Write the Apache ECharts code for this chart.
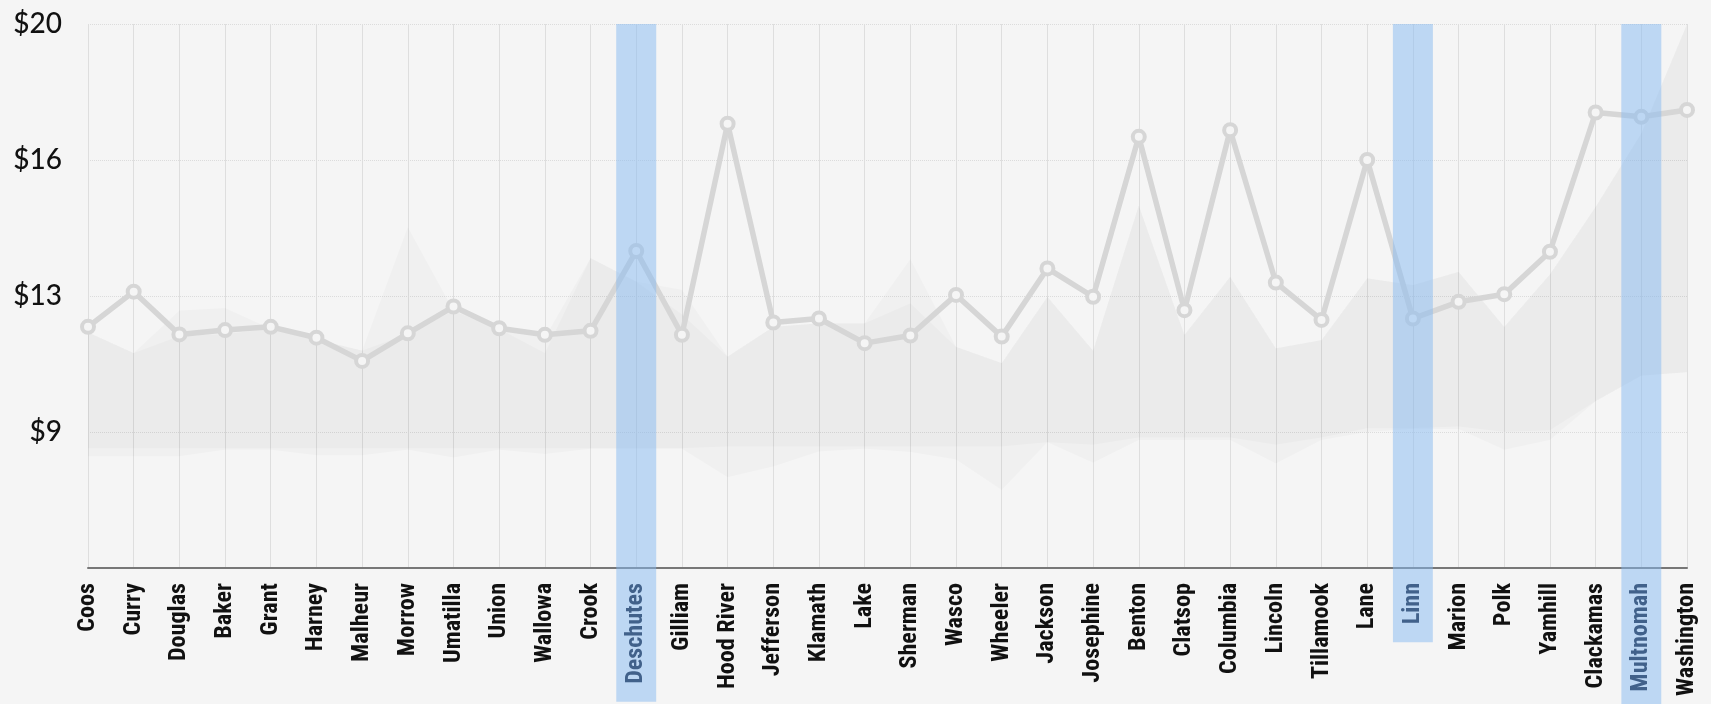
<!DOCTYPE html>
<html>
<head>
<meta charset="utf-8">
<script src="https://cdn.jsdelivr.net/npm/echarts@6/dist/echarts.min.js"></script>
<style>
  @font-face {
    font-family: 'CondX';
    src: local('Noto Sans ExtraCondensed'), local('NotoSans-ExtraCondensed'),
         local('Roboto Condensed'), local('RobotoCondensed-Regular'),
         local('Liberation Sans Narrow'), local('LiberationSansNarrow-Regular'),
         local('Noto Sans Condensed'), local('NotoSans-Condensed'),
         local('Open Sans Condensed'), local('OpenSansCondensed-Light'),
         local('DejaVu Sans Condensed'), local('DejaVuSansCondensed');
  }
  html, body { margin: 0; padding: 0; background: #f5f5f5; }
  #chart { width: 1711px; height: 704px; }
  #probe { position: absolute; left: -9999px; top: 0; white-space: nowrap; }
</style>
</head>
<body>
<div id="chart"></div>
<span id="probe">Hood River</span>
<script>
const counties = ['Coos','Curry','Douglas','Baker','Grant','Harney','Malheur','Morrow','Umatilla','Union','Wallowa','Crook','Deschutes','Gilliam','Hood River','Jefferson','Klamath','Lake','Sherman','Wasco','Wheeler','Jackson','Josephine','Benton','Clatsop','Columbia','Lincoln','Tillamook','Lane','Linn','Marion','Polk','Yamhill','Clackamas','Multnomah','Washington'];

const highlighted = ['Deschutes','Linn','Multnomah'];

const lineValues = [11.65, 12.62, 11.44, 11.56, 11.65, 11.35, 10.71, 11.47, 12.21, 11.61, 11.43, 11.54, 13.74, 11.43, 17.25, 11.77, 11.88, 11.2, 11.41, 12.53, 11.38, 13.26, 12.48, 16.89, 12.11, 17.07, 12.87, 11.84, 16.25, 11.88, 12.34, 12.55, 13.72, 17.56, 17.44, 17.63];

const outerLow  = [8.08, 8.08, 8.08, 8.26, 8.26, 8.11, 8.11, 8.26, 8.05, 8.26, 8.14, 8.29, 8.29, 8.29, 7.5, 7.8, 8.21, 8.29, 8.2, 7.99, 7.15, 8.47, 7.9, 8.53, 8.53, 8.53, 7.88, 8.53, 8.75, 8.83, 8.83, 8.26, 8.53, 9.6, 10.3, 10.4];
const outerHigh = [11.5, 10.93, 12.1, 12.17, 11.6, 11.3, 11.0, 14.4, 12.1, 11.6, 11.35, 13.55, 12.9, 12.67, 10.83, 11.65, 11.75, 11.75, 13.52, 11.1, 10.65, 12.48, 11.0, 15.0, 11.43, 13.03, 11.06, 11.29, 12.99, 12.8, 13.17, 11.65, 13.1, 14.96, 16.99, 20.0];

const innerLow  = [8.3, 8.3, 8.3, 8.3, 8.3, 8.3, 8.3, 8.3, 8.3, 8.3, 8.3, 8.3, 8.3, 8.3, 8.35, 8.35, 8.35, 8.35, 8.35, 8.35, 8.35, 8.47, 8.4, 8.6, 8.6, 8.6, 8.4, 8.6, 8.85, 8.85, 8.9, 8.75, 8.8, 9.6, 10.3, 10.4];
const innerHigh = [11.5, 10.93, 11.4, 11.45, 11.6, 11.3, 11.0, 11.45, 12.1, 11.6, 10.93, 13.55, 12.9, 12.0, 10.83, 11.65, 11.75, 11.75, 12.3, 11.1, 10.65, 12.48, 11.0, 15.0, 11.43, 13.03, 11.06, 11.29, 12.99, 12.8, 13.17, 11.65, 13.1, 14.96, 16.99, 20.0];

const yMin = 5, yMax = 20, yStep = 3.75;

const outerSpan = outerHigh.map((v, i) => +(v - outerLow[i]).toFixed(3));
const innerSpan = innerHigh.map((v, i) => +(v - innerLow[i]).toFixed(3));
const highlightBars = counties.map(c => highlighted.includes(c) ? yMax : null);

const blue = 'rgba(133,185,241,0.5)';
const bandFill = 'rgba(0,0,0,0.027)';
const labelFamily = "'Noto Sans ExtraCondensed', 'Roboto Condensed', 'Liberation Sans Narrow', CondX, 'Noto Sans Condensed', 'Liberation Sans', sans-serif";
const labelWeight = 'bold';

const chart = echarts.init(document.getElementById('chart'), null, { renderer: 'canvas' });

function labelMetrics() {
  const p = document.getElementById('probe');
  p.style.fontFamily = labelFamily;
  p.style.fontWeight = labelWeight;
  p.style.fontSize = '100px';
  const w = p.getBoundingClientRect().width || 450;
  let size = Math.min(36, 106 * 100 / w);
  size = Math.max(18, size);
  return size;
}

function build(fontSize) {
  const padV = Math.max(2, (40 - fontSize) / 2);
  const base = { fontFamily: labelFamily, fontWeight: labelWeight, fontSize: fontSize, lineHeight: fontSize, padding: [padV, 15, padV, 18] };
  chart.setOption({
    backgroundColor: '#f5f5f5',
    animation: false,
    grid: { left: 88, right: 24, top: 24, bottom: 136, containLabel: false, outerBoundsMode: 'none' },
    xAxis: {
      type: 'category',
      data: counties,
      boundaryGap: false,
      axisLine: { show: true, lineStyle: { color: '#777', width: 2 } },
      axisTick: { show: false },
      splitLine: { show: true, lineStyle: { color: '#dedede', width: 1 } },
      axisLabel: {
        interval: 0,
        rotate: 90,
        margin: 0,
        hideOverlap: false,
        formatter: v => highlighted.includes(v) ? '{hl|' + v + '}' : '{n|' + v + '}',
        rich: {
          n: Object.assign({}, base, { color: '#111' }),
          hl: Object.assign({}, base, { color: '#41618a', backgroundColor: blue })
        }
      }
    },
    yAxis: {
      type: 'value',
      min: yMin, max: yMax, interval: yStep,
      axisLine: { show: false },
      axisTick: { show: false },
      splitLine: { show: true, lineStyle: { color: '#dcdcdc', type: 'dotted', width: 1 } },
      axisLabel: {
        margin: 26,
        fontFamily: 'Lato, sans-serif',
        fontWeight: 500,
        fontSize: 28,
        color: '#111',
        formatter: v => v === yMin ? '' : '$' + Math.round(v)
      }
    },
    series: [
      { name: 'outerBase', type: 'line', stack: 'outer', data: outerLow, symbol: 'none', lineStyle: { opacity: 0 }, z: 1, silent: true },
      { name: 'outerBand', type: 'line', stack: 'outer', data: outerSpan, symbol: 'none', lineStyle: { opacity: 0 }, areaStyle: { color: bandFill }, z: 1, silent: true },
      { name: 'innerBase', type: 'line', stack: 'inner', data: innerLow, symbol: 'none', lineStyle: { opacity: 0 }, z: 1, silent: true },
      { name: 'innerBand', type: 'line', stack: 'inner', data: innerSpan, symbol: 'none', lineStyle: { opacity: 0 }, areaStyle: { color: bandFill }, z: 1, silent: true },
      {
        name: 'value', type: 'line', data: lineValues,
        symbol: 'circle', symbolSize: 12,
        lineStyle: { color: '#d6d6d6', width: 5.5 },
        itemStyle: { color: '#f5f5f5', borderColor: '#d6d6d6', borderWidth: 4 },
        z: 3
      },
      {
        name: 'highlight', type: 'bar', data: highlightBars,
        barWidth: 40, itemStyle: { color: blue }, z: 5, silent: true
      }
    ]
  }, true);
}

build(labelMetrics());
if (document.fonts && document.fonts.ready) {
  document.fonts.ready.then(() => build(labelMetrics())).catch(() => {});
}
</script>
</body>
</html>
